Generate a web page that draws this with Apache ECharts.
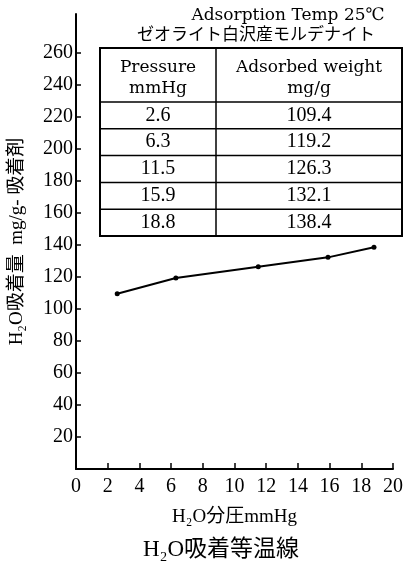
<!DOCTYPE html>
<html>
<head>
<meta charset="utf-8">
<script src="https://cdn.jsdelivr.net/npm/echarts@6/dist/echarts.min.js"></script>
<style>
  html, body { margin: 0; padding: 0; background: #fff; }
  #chart { width: 406px; height: 563px; }
</style>
</head>
<body>
<div id="chart"></div>
<script>
// Isotherm measurements (25 ℃, mordenite)
const pressure = [2.6, 6.3, 11.5, 15.9, 18.8];          // mmHg
const adsorbed = [109.4, 119.2, 126.3, 132.1, 138.4];    // mg/g
const xTicks = [0, 2, 4, 6, 8, 10, 12, 14, 16, 18, 20];
const yTicks = [20, 40, 60, 80, 100, 120, 140, 160, 180, 200, 220, 240, 260];

const serif = '"Liberation Serif", "DejaVu Serif", "Noto Sans CJK JP", serif';
const wideSerif = '"DejaVu Serif", "Liberation Serif", "Noto Sans CJK JP", serif';
const cjk = '"Noto Sans CJK JP", "Liberation Serif", sans-serif';
const ink = '#000';

// Table layout
const tbl = { left: 100, right: 402, split: 216, top: 48, head: 102, bottom: 236 };
const rowH = (tbl.bottom - tbl.head) / pressure.length;
const colL = (tbl.left + tbl.split) / 2;
const colR = (tbl.split + tbl.right) / 2;

const tableGraphics = [
  { type: 'rect', shape: { x: tbl.left, y: tbl.top, width: tbl.right - tbl.left, height: tbl.bottom - tbl.top },
    style: { fill: '#fff', stroke: ink, lineWidth: 2 } },
  { type: 'line', shape: { x1: tbl.split, y1: tbl.top, x2: tbl.split, y2: tbl.bottom },
    style: { stroke: ink, lineWidth: 1.5 } }
];
for (let i = 0; i < pressure.length; i++) {
  const y = tbl.head + i * rowH;
  tableGraphics.push({ type: 'line', shape: { x1: tbl.left, y1: y, x2: tbl.right, y2: y },
    style: { stroke: ink, lineWidth: 1.5 } });
}
function cell(text, x, y, font, size) {
  return { type: 'text', x: x, y: y,
    style: { text: text, x: 0, y: 0, align: 'center', verticalAlign: 'middle',
      fill: ink, font: size + 'px ' + font } };
}
tableGraphics.push(cell('Pressure', colL, 68, wideSerif, 17));
tableGraphics.push(cell('mmHg', colL, 89, wideSerif, 17));
tableGraphics.push(cell('Adsorbed weight', colR, 68, wideSerif, 17));
tableGraphics.push(cell('mg/g', colR, 89, wideSerif, 17));
pressure.forEach((p, i) => {
  const cy = tbl.head + (i + 0.5) * rowH;
  tableGraphics.push(cell(p.toFixed(1), colL, cy, serif, 20));
  tableGraphics.push(cell(adsorbed[i].toFixed(1), colR, cy, serif, 20));
});

const chart = echarts.init(document.getElementById('chart'), null, { renderer: 'canvas' });
chart.setOption({
  animation: false,
  backgroundColor: '#fff',
  grid: { left: 76, right: 8, top: 14, bottom: 94 },
  xAxis: {
    type: 'value', min: 0, max: 20, interval: 2,
    name: 'H₂O分圧mmHg', nameLocation: 'middle', nameGap: 39,
    nameTextStyle: { color: ink, fontSize: 19, fontFamily: serif },
    axisLine: { lineStyle: { color: ink, width: 2 } },
    axisTick: { inside: true, length: 6, lineStyle: { color: ink, width: 1.5 }, customValues: xTicks },
    axisLabel: { color: ink, fontSize: 20, fontFamily: serif, margin: 8, customValues: xTicks },
    splitLine: { show: false }
  },
  yAxis: {
    type: 'value', min: 0, max: 284, interval: 20,
    name: 'H₂O吸着量  mg/g- 吸着剤', nameLocation: 'middle', nameGap: 49, nameRotate: 90,
    nameTextStyle: { color: ink, fontSize: 19, fontFamily: serif },
    axisLine: { lineStyle: { color: ink, width: 2 } },
    axisTick: { inside: true, length: 5, lineStyle: { color: ink, width: 1.5 }, customValues: yTicks },
    axisLabel: { color: ink, fontSize: 20, fontFamily: serif, margin: 3, customValues: yTicks },
    splitLine: { show: false }
  },
  series: [{
    type: 'line',
    data: pressure.map((p, i) => [p, adsorbed[i]]),
    lineStyle: { color: ink, width: 2 },
    itemStyle: { color: ink },
    symbol: 'circle', symbolSize: 5,
    z: 3
  }],
  graphic: [
    { type: 'text', x: 288, y: 16,
      style: { text: 'Adsorption Temp 25℃', align: 'center', verticalAlign: 'middle',
        fill: ink, font: '17px ' + wideSerif } },
    { type: 'text', x: 256, y: 34,
      style: { text: 'ゼオライト白沢産モルデナイト', align: 'center', verticalAlign: 'middle',
        fill: ink, font: '17px ' + cjk } },
    { type: 'group', children: tableGraphics },
    { type: 'text', x: 221, y: 550,
      style: { text: 'H₂O吸着等温線', align: 'center', verticalAlign: 'middle',
        fill: ink, font: '23px ' + serif } }
  ]
});
</script>
</body>
</html>
